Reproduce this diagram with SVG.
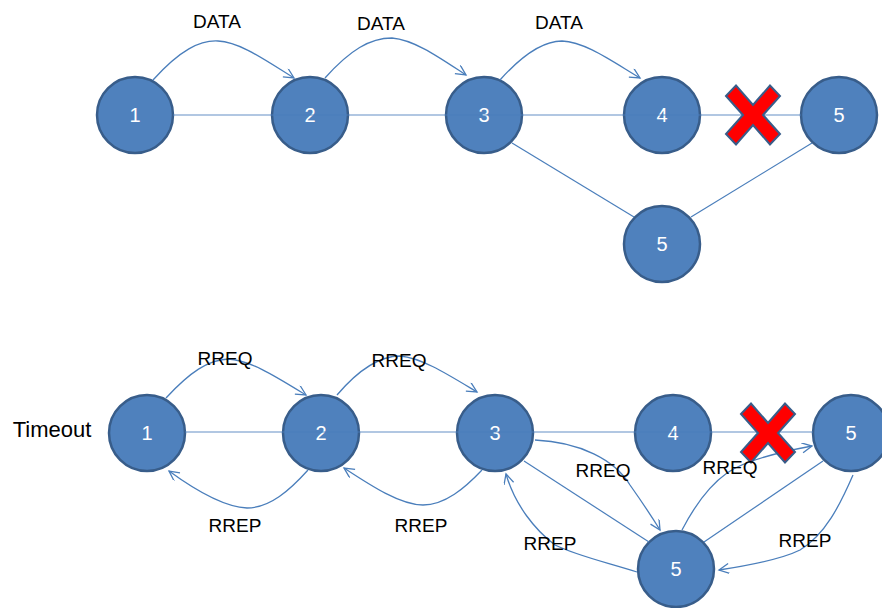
<svg xmlns="http://www.w3.org/2000/svg" width="882" height="608" viewBox="0 0 882 608">
<style>
.node{fill:#4F81BD;stroke:#385D8A;stroke-width:2.5}
.nl{font-family:"Liberation Sans",Arial,sans-serif;font-size:20px;fill:#fff;text-anchor:middle}
.lbl{font-family:"Liberation Sans",Arial,sans-serif;font-size:19px;fill:#000;text-anchor:middle}
.link{stroke:#4A7EBB;stroke-width:1.2;fill:none}
.arr{stroke:#4A7EBB;stroke-width:1.3;fill:none;marker-end:url(#ah)}
.x{fill:#FF0000;stroke:#385D8A;stroke-width:2;stroke-linejoin:miter}
</style>
<defs>
<marker id="ah" markerWidth="14" markerHeight="12" refX="11" refY="5" orient="auto" markerUnits="userSpaceOnUse">
<path d="M1,0 L11,5 L1,10" fill="none" stroke="#4A7EBB" stroke-width="1.3"/>
</marker>
<polygon id="cross" points="-27,-19 -17,-29.5 0,-10 17,-29.5 27,-19 10,0 27,19 17,29.5 0,10 -17,29.5 -27,19 -10,0"/>
</defs>

<!-- top nodes -->
<g id="t1"><circle class="node" cx="135" cy="115" r="38"/><text class="nl" x="135" y="122">1</text></g>
<g id="t2"><circle class="node" cx="310" cy="115" r="38"/><text class="nl" x="310" y="122">2</text></g>
<g id="t3"><circle class="node" cx="484" cy="115" r="38"/><text class="nl" x="484" y="122">3</text></g>
<g id="t4"><circle class="node" cx="662" cy="115" r="38"/><text class="nl" x="662" y="122">4</text></g>
<g id="t5"><circle class="node" cx="839" cy="115" r="38"/><text class="nl" x="839" y="122">5</text></g>
<g id="t5b"><circle class="node" cx="662" cy="244" r="38"/><text class="nl" x="662" y="251">5</text></g>

<!-- bottom nodes -->
<g id="b1"><circle class="node" cx="147" cy="433" r="38"/><text class="nl" x="147" y="440">1</text></g>
<g id="b2"><circle class="node" cx="321" cy="433" r="38"/><text class="nl" x="321" y="440">2</text></g>
<g id="b3"><circle class="node" cx="495" cy="433" r="38"/><text class="nl" x="495" y="440">3</text></g>
<g id="b4"><circle class="node" cx="673" cy="433" r="38"/><text class="nl" x="673" y="440">4</text></g>
<g id="b5"><circle class="node" cx="851" cy="433" r="38"/><text class="nl" x="851" y="440">5</text></g>
<g id="b5b"><circle class="node" cx="676" cy="569" r="38"/><text class="nl" x="676" y="576">5</text></g>

<g id="connectors">
<!-- top links -->
<line class="link" x1="173" y1="115" x2="801" y2="115" stroke-opacity="0.85"/>
<line class="link" x1="512" y1="143" x2="634" y2="217"/>
<line class="link" x1="691" y1="217" x2="812" y2="143"/>
<!-- top arrows -->
<path class="arr" d="M153,80 C180,50 200,40 218,41 C240,42 265,60 294,78"/>
<path class="arr" d="M325,78 C350,50 370,38 392,38 C415,40 440,58 466,75"/>
<path class="arr" d="M500,80 C525,52 545,41 562,41 C585,42 610,60 640,78"/>

<!-- bottom links -->
<line class="link" x1="185" y1="432" x2="813" y2="432" stroke-opacity="0.85"/>
<line class="link" x1="524" y1="461" x2="649" y2="542"/>
<line class="link" x1="704" y1="542" x2="823" y2="461"/>
<!-- bottom arrows -->
<path class="arr" d="M166,398 C190,372 208,360 228,359 C250,360 275,376 306,395"/>
<path class="arr" d="M337,395 C360,368 380,356 400,356 C422,358 447,374 477,392"/>
<path class="arr" d="M308,470 C290,490 270,508 247,508 C225,507 195,490 169,471"/>
<path class="arr" d="M482,470 C465,488 445,505 423,505 C400,505 370,485 344,468"/>
<path class="arr" d="M535,440 C580,442 615,460 630,485 C642,502 652,517 660,530"/>
<path class="arr" d="M682,530 C695,505 710,485 727,473 C745,460 780,452 812,446"/>
<path class="arr" d="M853,475 C840,505 825,535 800,550 C780,560 745,566 719,570"/>
<path class="arr" d="M637,572 C605,562 575,555 555,545 C535,530 515,505 506,474"/>
</g>

<!-- red crosses -->
<use href="#cross" class="x" x="753" y="115"/>
<use href="#cross" class="x" x="768" y="433"/>

<!-- labels -->
<text class="lbl" x="217" y="28">DATA</text>
<text class="lbl" x="381" y="30">DATA</text>
<text class="lbl" x="559" y="29">DATA</text>
<text class="lbl" x="225" y="365">RREQ</text>
<text class="lbl" x="399" y="367">RREQ</text>
<text class="lbl" x="235" y="532">RREP</text>
<text class="lbl" x="421" y="532">RREP</text>
<text class="lbl" x="603" y="477">RREQ</text>
<text class="lbl" x="730" y="474">RREQ</text>
<text class="lbl" x="805" y="547">RREP</text>
<text class="lbl" x="550" y="550">RREP</text>
<text class="lbl" x="52" y="437" style="font-size:22px">Timeout</text>
</svg>
